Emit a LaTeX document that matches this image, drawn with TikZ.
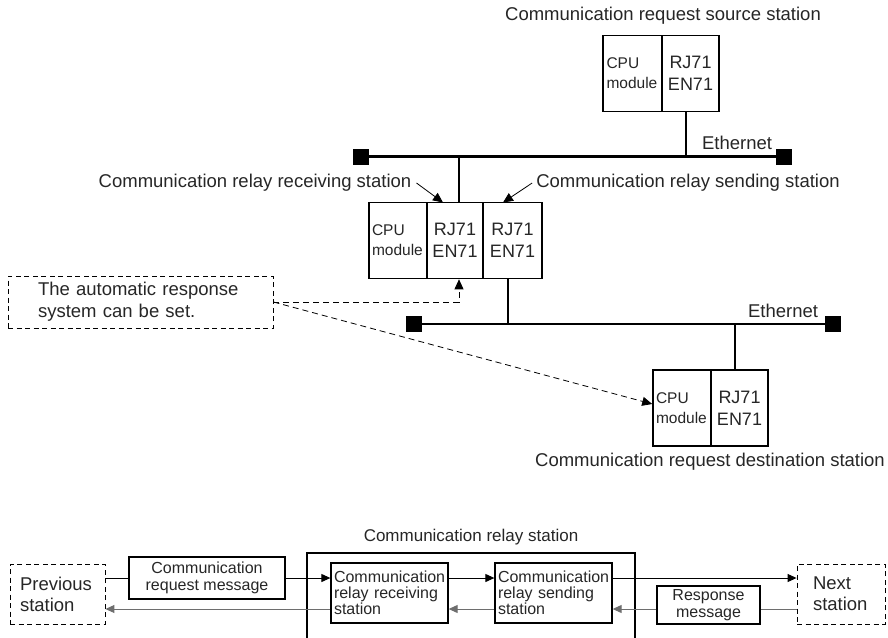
\documentclass[tikz,border=0pt]{standalone}
\usepackage{fontspec}
\setmainfont{Liberation Sans}
\usetikzlibrary{arrows.meta}
\definecolor{txt}{HTML}{262626}
\definecolor{retc}{HTML}{6E6E6E}
\begin{document}
\begin{tikzpicture}[x=1pt,y=-1pt,
  every node/.style={text=txt},
  lbl/.style={inner sep=1pt,font=\fontsize{18.5}{22}\selectfont},
  cpubox/.style={draw=black,line width=1.6pt,minimum height=76pt,inner xsep=0pt,
     text width=52pt,align=left,font=\fontsize{15.5}{20}\selectfont},
  rjbox/.style={draw=black,line width=1.6pt,minimum height=76pt,inner xsep=0pt,
     align=center,font=\fontsize{18}{22}\selectfont},
  sq/.style={fill=black,draw=none,minimum size=16pt,inner sep=0pt},
  eth/.style={line width=2.2pt},
  dsh/.style={line width=0.8pt,dash pattern=on 6pt off 4pt},
  tipB/.style={-{Triangle[length=10pt,width=9pt]}},
  tipS/.style={-{Triangle[length=9pt,width=8pt]}},
  note/.style={draw=black,line width=0.9pt,dash pattern=on 5pt off 3.5pt,
     minimum width=265pt,minimum height=52pt,text width=205pt,align=left,
     inner xsep=0pt,font=\fontsize{18.5}{22}\selectfont},
  dbox/.style={draw=black,line width=0.9pt,dash pattern=on 5pt off 3.5pt,
     minimum height=60pt,align=left,inner xsep=0pt,font=\fontsize{18.5}{21}\selectfont},
  bbox/.style={draw=black,line width=1.3pt,align=center,inner xsep=0pt,
     font=\fontsize{16}{17}\selectfont},
  rbox/.style={draw=black,line width=1.3pt,minimum width=117pt,minimum height=60pt,
     text width=111pt,inner xsep=0pt,align=left,font=\fontsize{16}{16}\selectfont},
  ln/.style={line width=1pt,draw=black},
  rln/.style={line width=1pt,draw=retc}
]
\useasboundingbox (0,0) rectangle (888,637);

% ---- top: request source station
\node[lbl] (srcL) at (663,16) {Communication request source station};
\node[cpubox,minimum width=59pt] (cpuA) at (632.5,73.5) {CPU\\module};
\node[rjbox,minimum width=57pt] (rjA) at (690.5,73.5) {RJ71\\EN71};

% ---- Ethernet 1
\node[sq] (sq1L) at (360.5,156.5) {};
\node[sq] (sq1R) at (784,156.5) {};
\draw[eth] (sq1L) -- (sq1R);
\node[lbl] (eth1) at (737,143) {Ethernet};
\coordinate (tA) at (686,156.5);
\draw[eth] (tA |- rjA.south) -- (tA);

% ---- relay station
\node[cpubox,minimum width=58pt] (cpuB) at (398,240.5) {CPU\\module};
\node[rjbox,minimum width=56pt] (rjB1) at (455,240.5) {RJ71\\EN71};
\node[rjbox,minimum width=59pt] (rjB2) at (512.5,240.5) {RJ71\\EN71};
\coordinate (tB) at (459,156.5);
\draw[eth] (tB |- rjB1.north) -- (tB);

\node[lbl] (rcvL) at (255,183) {Communication relay receiving station};
\node[lbl] (sndL) at (688,183) {Communication relay sending station};
\coordinate (rcvTip) at (443,202.5);
\coordinate (sndTip) at (503,202.5);
\draw[line width=0.8pt,tipB] ([xshift=4pt]rcvL.east) -- (rcvTip);
\draw[line width=0.8pt,tipB] ([xshift=-3pt]sndL.west) -- (sndTip);

% ---- Ethernet 2
\node[sq] (sq2L) at (414,324) {};
\node[sq] (sq2R) at (833,324) {};
\draw[eth] (sq2L) -- (sq2R);
\node[lbl] (eth2) at (783,311) {Ethernet};
\coordinate (tC) at (508,324);
\draw[eth] (tC |- rjB2.south) -- (tC);
\coordinate (tD) at (735,324);

% ---- destination station
\node[cpubox,minimum width=58pt] (cpuC) at (682,408) {CPU\\module};
\node[rjbox,minimum width=57pt] (rjC) at (739.5,408) {RJ71\\EN71};
\draw[eth] (tD) -- (tD |- rjC.north);
\node[lbl] (dstL) at (710,462) {Communication request destination station};

% ---- note
\node[note] (note) at (140.5,302) {The automatic response\\system can be set.};
\draw[dsh,tipB] (note.east) -- (note.east -| tB) -- (tB |- rjB1.south);
\draw[dsh,tipB] (note.east) -- ([yshift=4pt]cpuC.west);

% ---- bottom flow
\node[lbl,font=\fontsize{17}{20}\selectfont] (relT) at (471,537) {Communication relay station};
\node[draw=black,line width=1.8pt,minimum width=328pt,minimum height=100pt] (relay) at (471,603) {};

\node[dbox,minimum width=95pt,text width=75pt] (prev) at (57.5,594) {Previous\\station};
\node[bbox,minimum width=156pt,minimum height=42pt] (req) at (207,578) {Communication\\request message};
\node[rbox] (rcv) at (389.5,593) {Communication\\relay receiving\\station};
\node[rbox] (snd) at (553.5,593) {Communication\\relay sending\\station};
\node[bbox,minimum width=103pt,minimum height=36pt] (resp) at (708.5,605) {Response\\message};
\node[dbox,minimum width=88pt,text width=56pt] (next) at (841,594) {Next\\station};

\coordinate (r1) at (0,578);
\coordinate (r2) at (0,609);
\draw[ln] (prev.east |- r1) -- (req.west |- r1);
\draw[ln,tipS] (req.east |- r1) -- (rcv.west |- r1);
\draw[ln,tipS] (rcv.east |- r1) -- (snd.west |- r1);
\draw[ln,tipS] (snd.east |- r1) -- (next.west |- r1);
\draw[rln] (next.west |- r2) -- (resp.east |- r2);
\draw[rln,tipS] (resp.west |- r2) -- (snd.east |- r2);
\draw[rln,tipS] (snd.west |- r2) -- (rcv.east |- r2);
\draw[rln,tipS] (rcv.west |- r2) -- (prev.east |- r2);
\end{tikzpicture}
\end{document}
